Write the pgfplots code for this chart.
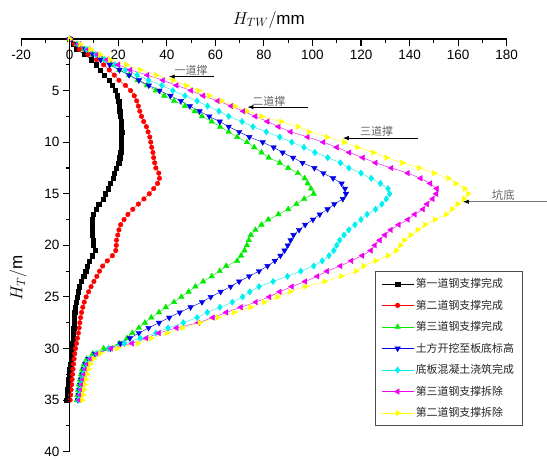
\documentclass[border=0pt]{standalone}
\usepackage{pgfplots}
\pgfplotsset{compat=1.18}
\usepackage{pgfplotstable}
\usepackage{fontspec}
\setmainfont{Liberation Sans}
\newfontfamily\cjk{Noto Sans CJK SC}
\usetikzlibrary{arrows.meta}
\pgfplotsset{/pgf/number format/assume math mode=true}

\definecolor{cR}{RGB}{255,0,0}
\definecolor{cG}{RGB}{0,235,0}
\definecolor{cB}{RGB}{0,0,235}
\definecolor{cC}{RGB}{0,240,240}
\definecolor{cM}{RGB}{240,0,240}
\definecolor{cY}{RGB}{255,255,0}

\pgfplotstableread{
y k r g b c m yl
0 0 0 0 0 0 0 0
0.5 1.4 2 3 3.2 3.5 4 4.3
1 2.8 4 6 6.4 7 7.8 8.5
1.5 6.2 7.5 9.5 9.6 10.8 11.5 12.5
2 9 11 13.5 12.8 14.5 15.5 16.5
2.5 11 14 17 16.5 18.7 20 23.3
3 12.5 16.3 20.5 20.5 23 25 29
3.5 14.1 18.4 24.5 24.5 27.8 32 35.5
4 16.4 20.3 28 28.5 32.5 38.5 42.5
4.5 17.5 23 31.8 32.6 38 44 48
5 18.6 25.1 35.5 37 42.5 50 53
5.5 19.6 26.6 39 41.5 47.5 55 57.5
6 20.2 27.6 43 45.8 52.5 61 62.5
6.5 20.4 28.3 47.5 49.5 56.8 66.5 68
7 20.6 28.9 51.5 53.5 61.5 71.5 73
7.5 20.8 29.6 54.5 57.5 65.5 76.5 79
8 21.1 30.5 58.5 61.8 71 81.5 87
8.5 21.3 31.6 62 65.5 75.5 86 94
9 21.4 32.3 65.5 69.8 81 91 98.6
9.5 21.3 33 69 74 86.5 98 106
10 21.3 33.4 73 79.5 91.5 104.5 113
10.5 21.2 33.8 76 84 96.5 110 118.5
11 21 34.3 79 87.7 101 115.2 125
11.5 20.6 34.6 82 92 106.3 120.7 130.5
12 20.2 35 86.5 95.9 111.5 126 137
12.5 19.2 35.5 90 100.8 115 132.5 144
13 18.5 36.7 94 104.5 120 139.3 150
13.5 17.8 37 96.8 108.5 124.2 144.5 156
14 16.8 36.2 98 112 128 148.5 159
14.5 16 34.6 99.4 113.4 131.1 151.2 162.7
15 14.8 32.8 100.5 113.8 131.8 151 164.1
15.5 13.8 30.6 96.6 112.5 130.4 149.5 162.3
16 12 28.3 93.4 109 128.6 147.2 159.7
16.5 10.8 26 90 106.2 126 145.5 157.4
17 9.8 24 86 103 122.5 142.1 155
17.5 9.4 22.4 81.8 100.2 120 139.3 150.4
18 9.2 21 79 97 117.5 135.5 146.3
18.5 9.3 20.3 76.5 94.5 115 132.3 143.3
19 9.4 19.8 74.6 92.2 113 129.8 140.4
19.5 9.6 19.3 73.8 91 111.2 127.7 137.8
20 9.8 19.2 73 89.8 110 125.7 136.2
20.5 10.4 19 72 88.5 108.8 124 134.5
21 9.4 17.6 70.6 86.8 106.8 120.5 131
21.5 8.2 15.5 69 84.5 104 116 126
22 7.2 13.6 64.5 81.5 100.5 111.5 121
22.5 6.6 12.3 61.8 78 95.2 106 117.9
23 5.8 11.2 58.5 73.9 89.7 102 111.8
23.5 4.6 10 55 69.8 83.8 97 104.9
24 3.9 8.8 51.8 66.3 78 91.5 97
24.5 3.5 7.8 49 62.2 74.2 86.5 90.8
25 3 6.8 46 58.1 71.2 82.2 85.5
25.5 2.6 6 43 54.5 67 76.7 80
26 2.3 5.4 39.6 49.8 61.9 70.5 74.5
26.5 2.1 4.9 36.8 45.3 56.7 64.5 67.7
27 1.9 4.5 33.6 41 52.5 59 61
27.5 1.8 4.2 31 36.8 46.8 53 53.5
28 1.7 3.9 28.5 32.5 40.5 44 46.4
28.5 1.5 3.6 25.8 28.5 35.5 36.7 40.2
29 1.3 3.2 23.6 24.8 29 31.6 33.5
29.5 1.1 2.8 20.5 20.9 22.5 25.7 28
30 0.9 2.4 14 16.7 16 17 19.5
30.5 0.7 2.1 9.5 10.5 11 11.5 12.5
31 0.5 1.8 7 7.8 8.3 8.8 9.8
31.5 0.2 1.6 5.9 6.5 7 7.5 8.5
32 0 1.4 5.2 5.8 6.2 6.7 7.7
32.5 -0.2 1.2 4.7 5.2 5.6 6.1 7.1
33 -0.4 1 4.2 4.7 5.1 5.6 6.6
33.5 -0.6 0.8 3.8 4.3 4.7 5.2 6.2
34 -0.8 0.6 3.5 4 4.3 4.8 5.8
34.5 -1 0.4 3.2 3.7 4 4.4 5.5
35 -1.2 0.2 3 3.4 3.7 4.1 5.2
}\data

\begin{document}
\begin{tikzpicture}
\begin{axis}[
  name=main,
  scale only axis, width=485.6pt, height=412.7pt,
  xmin=-20, xmax=180, ymin=0, ymax=40, y dir=reverse,
  axis x line=top, axis y line=none,
  axis line style={-, line width=1.2pt},
  xtick={-20,0,...,180}, minor x tick num=1,
  tick align=inside,
  major tick length=6.7pt, minor tick length=3.5pt,
  tick style={line width=1.1pt, black},
  xticklabel style={anchor=north, yshift=-8pt, font=\fontsize{13.5}{15}\selectfont},
  xlabel={$H_{TW}/$mm},
  xlabel style={at={(axis cs:82,0)}, anchor=base, yshift=15pt, font=\fontsize{17}{20}\selectfont},
  clip=false,
  legend style={at={(axis cs:125.8,22.5)}, anchor=north west, draw=black!70, line width=0.6pt,
    fill=white, font=\cjk\fontsize{10.9}{12}\selectfont, text=black!85,
    inner xsep=6pt, inner ysep=5pt, row sep=6.8pt, nodes={inner sep=2pt}},
  legend cell align=left,
  legend image code/.code={\draw[mark repeat=2,mark phase=2] plot coordinates {(0pt,0pt) (16pt,0pt) (32pt,0pt)};},
]
\coordinate (bl) at (axis cs:-20,40);
\addplot[black, thin, mark=square*, mark size=2.1pt, mark options={solid,fill=black}] table[x=k, y=y] {\data};
\addplot[cR, thin, mark=*, mark size=2.3pt, mark options={solid,fill=cR,draw=cR}] table[x=r, y=y] {\data};
\addplot[cG, thin, mark=triangle*, mark size=3.2pt, mark options={solid,fill=cG,draw=cG}] table[x=g, y=y] {\data};
\addplot[cB, thin, mark=triangle*, mark size=3.2pt, mark options={solid,fill=cB,draw=cB,rotate=180}] table[x=b, y=y] {\data};
\addplot[cC, thin, mark=diamond*, mark size=3.2pt, mark options={solid,fill=cC,draw=cC}] table[x=c, y=y] {\data};
\addplot[cM, thin, mark=triangle*, mark size=3.2pt, mark options={solid,fill=cM,draw=cM,rotate=90}] table[x=m, y=y] {\data};
\addplot[cY, thin, mark=triangle*, mark size=3.2pt, mark options={solid,fill=cY,draw=cY,rotate=270}] table[x=yl, y=y] {\data};
\legend{第一道钢支撑完成,第二道钢支撑完成,第三道钢支撑完成,土方开挖至板底标高,底板混凝土浇筑完成,第三道钢支撑拆除,第二道钢支撑拆除}
% annotations
\draw[line width=0.8pt, -{Latex[length=6pt,width=4.5pt]}] (axis cs:59.4,3.65) -- (axis cs:40.8,3.65);
\node[text=black!60, font=\cjk\fontsize{11}{11}\selectfont, anchor=south, inner sep=1pt] at (axis cs:50,3.65) {一道撑};
\draw[line width=0.8pt, -{Latex[length=6pt,width=4.5pt]}] (axis cs:98,6.6) -- (axis cs:73.2,6.6);
\node[text=black!60, font=\cjk\fontsize{11}{11}\selectfont, anchor=south, inner sep=1pt] at (axis cs:82,6.6) {二道撑};
\draw[line width=0.8pt, -{Latex[length=6pt,width=4.5pt]}] (axis cs:143.5,9.6) -- (axis cs:112.5,9.6);
\node[text=black!60, font=\cjk\fontsize{11}{11}\selectfont, anchor=south, inner sep=1pt] at (axis cs:126.4,9.6) {三道撑};
\draw[line width=0.7pt, black!55, -{Latex[length=6pt,width=4.5pt,black]}] (axis cs:196.5,15.77) -- (axis cs:162,15.77);
\node[text=black!60, font=\cjk\fontsize{11.5}{11.5}\selectfont, anchor=south, inner sep=1pt] at (axis cs:178.6,15.77) {坑底};
\end{axis}
\begin{axis}[
  at={(48.56pt,0pt)},
  scale only axis, width=437.04pt, height=412.7pt,
  xmin=0, xmax=180, ymin=0, ymax=40, y dir=reverse,
  axis x line=none, axis y line=left,
  axis line style={-, line width=1.2pt},
  ytick={5,10,...,40}, minor ytick={2.5,7.5,...,37.5},
  tick align=outside,
  major tick length=6.7pt, minor tick length=4pt,
  tick style={line width=1.1pt, black},
  yticklabel style={font=\fontsize{13.5}{15}\selectfont},
  ylabel={$H_{T}/$m},
  ylabel style={at={([xshift=-51.5pt]axis cs:0,23.2)}, anchor=center, font=\fontsize{17}{20}\selectfont},
]
\end{axis}
\pgfresetboundingbox
\path[use as bounding box] (bl) ++(-21.1pt,-8.3pt) rectangle ++(547pt,460pt);
\end{tikzpicture}
\end{document}
